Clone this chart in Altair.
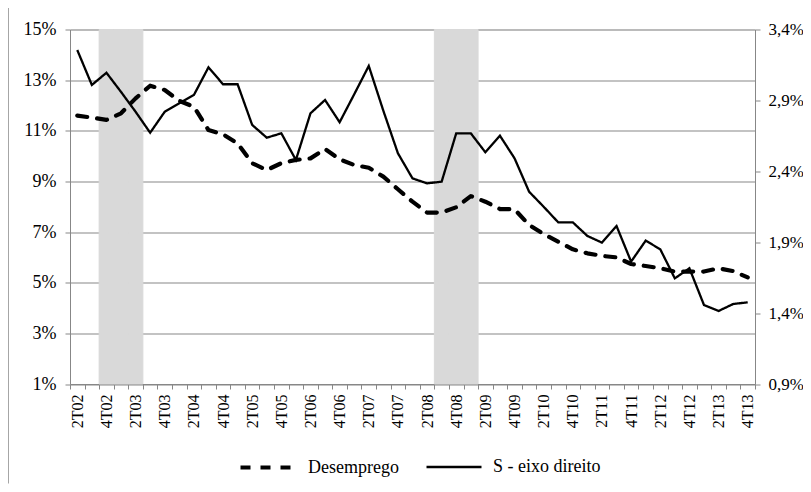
import altair as alt
import pandas as pd

trimestres = ["2T02", "3T02", "4T02", "1T03", "2T03", "3T03", "4T03", "1T04", "2T04", "3T04",
              "4T04", "1T05", "2T05", "3T05", "4T05", "1T06", "2T06", "3T06", "4T06", "1T07",
              "2T07", "3T07", "4T07", "1T08", "2T08", "3T08", "4T08", "1T09", "2T09", "3T09",
              "4T09", "1T10", "2T10", "3T10", "4T10", "1T11", "2T11", "3T11", "4T11", "1T12",
              "2T12", "3T12", "4T12", "1T13", "2T13", "3T13", "4T13"]

desemprego = [11.60, 11.52, 11.43, 11.69, 12.28, 12.78, 12.61, 12.18, 11.95, 11.03,
              10.86, 10.50, 9.72, 9.45, 9.72, 9.85, 9.91, 10.28, 9.87, 9.65,
              9.54, 9.19, 8.69, 8.20, 7.77, 7.77, 7.98, 8.42, 8.20, 7.91,
              7.90, 7.28, 6.92, 6.62, 6.32, 6.16, 6.06, 6.00, 5.74, 5.66,
              5.57, 5.44, 5.44, 5.44, 5.57, 5.46, 5.21]

s_eixo_direito = [3.255, 3.009, 3.095, 2.960, 2.820, 2.672, 2.820, 2.880, 2.938, 3.133,
                  3.014, 3.014, 2.727, 2.637, 2.668, 2.480, 2.809, 2.903, 2.746, 2.943,
                  3.143, 2.827, 2.527, 2.350, 2.315, 2.327, 2.668, 2.668, 2.534, 2.651,
                  2.492, 2.256, 2.150, 2.040, 2.040, 1.944, 1.897, 2.014, 1.763, 1.911,
                  1.850, 1.645, 1.716, 1.457, 1.415, 1.464, 1.476]

recessao = ["4T02", "1T03", "2T03", "3T08", "4T08", "1T09"]

series = ["Desemprego", "S - eixo direito"]
left_ticks = [1, 3, 5, 7, 9, 11, 13, 15]
right_ticks = [0.9, 1.4, 1.9, 2.4, 2.9, 3.4]

df_d = pd.DataFrame({"tri": trimestres, "valor": desemprego, "serie": series[0]})
df_s = pd.DataFrame({"tri": trimestres, "valor": s_eixo_direito, "serie": series[1]})
df_r = pd.DataFrame({"tri": recessao, "lo": left_ticks[0], "hi": left_ticks[-1]})
df_frame = pd.DataFrame({"k": [0]})

FONT = "Liberation Serif"
GRAY = "#878787"
SHADE = "#d9d9d9"

x_scale = alt.Scale(domain=trimestres, paddingInner=0, paddingOuter=0)
x_axis = alt.Axis(
    title=None, labelAngle=270, labelAlign="right", labelBaseline="middle",
    labelFont=FONT, labelFontSize=16, labelColor="black", labelPadding=5,
    labelOverlap=False, tickBand="extent", tickSize=5, tickColor=GRAY,
    domainColor=GRAY, grid=False,
    labelExpr="(substring(datum.value,0,1)=='2' || substring(datum.value,0,1)=='4') ? datum.value : ''",
)
X = alt.X("tri:N", scale=x_scale, axis=x_axis, sort=trimestres)

left_scale = alt.Scale(domain=[left_ticks[0], left_ticks[-1]], nice=False, zero=False)
left_axis = alt.Axis(
    title=None, orient="left", values=left_ticks, labelExpr="datum.value + '%'",
    grid=True, gridColor=GRAY, gridWidth=1, domainColor=GRAY, tickColor=GRAY,
    tickSize=5, labelFont=FONT, labelFontSize=18, labelColor="black", labelPadding=9,
)

right_scale = alt.Scale(domain=[right_ticks[0], right_ticks[-1]], nice=False, zero=False)
right_axis = alt.Axis(
    title=None, orient="right", values=right_ticks,
    labelExpr="replace(format(datum.value, '.1f'), '.', ',') + '%'",
    grid=False, domainColor=GRAY, tickColor=GRAY, tickSize=5,
    labelFont=FONT, labelFontSize=17, labelColor="black", labelPadding=8,
)

legend = alt.Legend(
    title=None, orient="none", legendX=168, legendY=408, direction="horizontal",
    symbolType="stroke", symbolSize=3025, symbolStrokeColor="black",
    labelFont=FONT, labelFontSize=18, labelColor="black", labelOffset=10,
    columnPadding=22, padding=0,
)

dash = alt.StrokeDash("serie:N", scale=alt.Scale(domain=series, range=[[10, 10], [1, 0]]), legend=legend)
width_enc = alt.StrokeWidth("serie:N", scale=alt.Scale(domain=series, range=[4.2, 2.3]), legend=legend)

bars = alt.Chart(df_r).mark_bar(color=SHADE, stroke=SHADE, strokeWidth=1).encode(
    x=X,
    y=alt.Y("lo:Q", scale=left_scale, axis=left_axis),
    y2="hi:Q",
)

line_d = alt.Chart(df_d).mark_line(color="black", strokeCap="round", strokeJoin="round").encode(
    x=X,
    y=alt.Y("valor:Q", scale=left_scale, axis=left_axis),
    strokeDash=dash,
    strokeWidth=width_enc,
)

line_s = alt.Chart(df_s).mark_line(color="black", strokeJoin="miter").encode(
    x=X,
    y=alt.Y("valor:Q", scale=right_scale, axis=right_axis),
    strokeDash=dash,
    strokeWidth=width_enc,
)

# outer chart-area frame (left edge, as in the reference)
frame = alt.Chart(df_frame).mark_rule(color="#a6a6a6", strokeWidth=1).encode(
    x=alt.value(-61.5), y=alt.value(-21.5), y2=alt.value(454)
)

chart = alt.layer(alt.layer(bars, line_d), line_s, frame).resolve_scale(y="independent").properties(
    width=685, height=354.5,
    autosize=alt.AutoSizeParams(type="none"),
    padding={"left": 62, "top": 21.5, "right": 48, "bottom": 99.5},
).configure_view(stroke=None).configure(background="white")

chart.save("out.html", embed_options={"renderer": "svg", "actions": False})
